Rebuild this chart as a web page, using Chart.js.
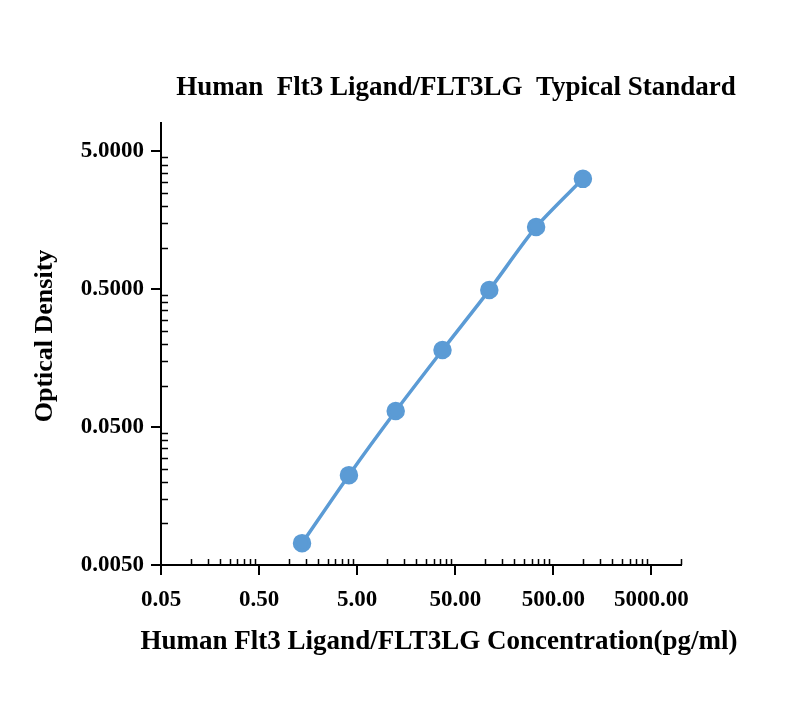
<!DOCTYPE html>
<html>
<head>
<meta charset="utf-8">
<script src="https://cdn.jsdelivr.net/npm/chart.js@4/dist/chart.umd.min.js"></script>
<style>
  html, body { margin: 0; padding: 0; background: #ffffff; }
  #wrap { width: 800px; height: 709px; position: relative; }
</style>
</head>
<body>
<div id="wrap"><canvas id="c" width="800" height="709"></canvas></div>
<script>
// ---- data ----
const concentrations = [1.37, 4.12, 12.35, 37.04, 111.11, 333.33, 1000];
const odValues = [0.0072, 0.0224, 0.0653, 0.181, 0.492, 1.41, 3.15];
const xMajorTicks = [0.05, 0.5, 5, 50, 500, 5000];
const yMajorTicks = [0.005, 0.05, 0.5, 5];
const chartTitle = 'Human  Flt3 Ligand/FLT3LG  Typical Standard';
const xTitle = 'Human Flt3 Ligand/FLT3LG Concentration(pg/ml)';
const yTitle = 'Optical Density';

const X_MIN = 0.05, X_MAX = 10000, Y_MIN = 0.005, Y_MAX = 8;
const FONT = '"Liberation Serif", "Times New Roman", serif';
const COLOR = '#5b9bd5';

function minorsFrom(majors, max) {
  const out = [];
  majors.forEach(m => {
    for (let k = 2; k <= 9; k++) {
      const v = m * k;
      if (v <= max * 1.0001) out.push(v);
    }
  });
  return out;
}
const xMinor = minorsFrom(xMajorTicks, X_MAX);
const yMinor = minorsFrom(yMajorTicks, Y_MAX);

const points = concentrations.map((c, i) => ({ x: c, y: odValues[i] }));

const decorPlugin = {
  id: 'decor',
  afterDraw(chart) {
    const ctx = chart.ctx;
    const xs = chart.scales.x, ys = chart.scales.y;
    const area = chart.chartArea;
    ctx.save();
    ctx.strokeStyle = '#000';
    ctx.lineWidth = 1.5;
    ctx.beginPath();
    xMinor.forEach(v => {
      const px = Math.round(xs.getPixelForValue(v)) + 0.5;
      ctx.moveTo(px, area.bottom);
      ctx.lineTo(px, area.bottom - 6);
    });
    yMinor.forEach(v => {
      const py = Math.round(ys.getPixelForValue(v)) + 0.5;
      ctx.moveTo(area.left, py);
      ctx.lineTo(area.left + 7, py);
    });
    ctx.stroke();

    ctx.fillStyle = '#000';
    ctx.textAlign = 'center';
    ctx.textBaseline = 'alphabetic';
    ctx.font = 'bold 27px ' + FONT;
    ctx.fillText(chartTitle, 456, 95);
    ctx.font = 'bold 27px ' + FONT;
    ctx.fillText(xTitle, 439, 649);
    ctx.font = 'bold 26px ' + FONT;
    ctx.translate(45, 336);
    ctx.rotate(-Math.PI / 2);
    ctx.textBaseline = 'middle';
    ctx.fillText(yTitle, 0, 0);
    ctx.restore();
  }
};

new Chart(document.getElementById('c'), {
  type: 'line',
  data: {
    datasets: [{
      data: points,
      borderColor: COLOR,
      backgroundColor: COLOR,
      borderWidth: 3.5,
      pointRadius: 7.5,
      pointHoverRadius: 7.5,
      pointBackgroundColor: COLOR,
      pointBorderColor: COLOR,
      tension: 0.25,
      fill: false
    }]
  },
  options: {
    responsive: false,
    animation: false,
    devicePixelRatio: 1,
    layout: { padding: { top: 123, right: 119, left: 0, bottom: 0 } },
    plugins: { legend: { display: false }, tooltip: { enabled: false }, title: { display: false } },
    scales: {
      x: {
        type: 'logarithmic',
        min: X_MIN, max: X_MAX,
        afterBuildTicks(scale) { scale.ticks = xMajorTicks.map(v => ({ value: v, major: true })); },
        afterFit(scale) { scale.height = 144; },
        ticks: {
          color: '#000',
          font: { family: FONT, size: 23, weight: 'bold' },
          padding: 11,
          maxRotation: 0,
          autoSkip: false,
          callback: (v) => Number(v).toFixed(2)
        },
        grid: { display: true, drawOnChartArea: false, drawTicks: true, tickLength: 10, color: '#000', lineWidth: 2 },
        border: { display: true, color: '#000', width: 2 }
      },
      y: {
        type: 'logarithmic',
        min: Y_MIN, max: Y_MAX,
        afterBuildTicks(scale) { scale.ticks = yMajorTicks.map(v => ({ value: v, major: true })); },
        afterFit(scale) { scale.width = 161; },
        ticks: {
          color: '#000',
          font: { family: FONT, size: 23, weight: 'bold' },
          padding: 7,
          autoSkip: false,
          callback: (v) => Number(v).toFixed(4)
        },
        grid: { display: true, drawOnChartArea: false, drawTicks: true, tickLength: 10, color: '#000', lineWidth: 2 },
        border: { display: true, color: '#000', width: 2 }
      }
    }
  },
  plugins: [decorPlugin]
});
</script>
</body>
</html>
